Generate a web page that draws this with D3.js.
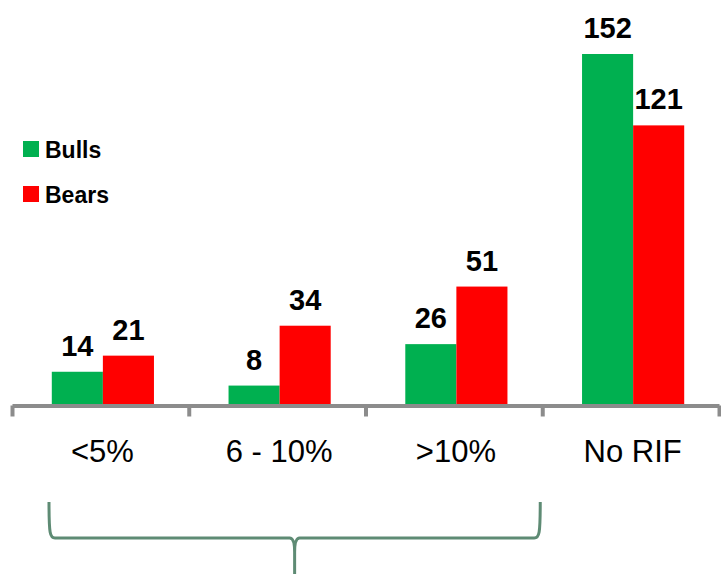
<!DOCTYPE html>
<html>
<head>
<meta charset="utf-8">
<script src="https://cdn.jsdelivr.net/npm/d3@7/dist/d3.min.js"></script>
<style>
  html, body { margin: 0; padding: 0; background: #fff; }
  svg { display: block; font-family: "Liberation Sans", Arial, sans-serif; }
</style>
</head>
<body>
<svg id="chart" width="721" height="574"></svg>
<script>
// Data
const categories = ["<5%", "6 - 10%", ">10%", "No RIF"];
const seriesNames = ["Bulls", "Bears"];
const bulls = [14, 8, 26, 152];
const bears = [21, 34, 51, 121];
const seriesColors = ["#00B050", "#FF0000"];

const svg = d3.select("#chart");
const W = 721, H = 574;
const baseY = 404;

// Scales
const x = d3.scaleBand().domain(categories).range([12, 719]).paddingInner(0).paddingOuter(0);
const xEdge = d3.scaleLinear().domain([0, categories.length]).range([12, 719]);
const xs = d3.scaleBand().domain(seriesNames).range([0, x.bandwidth()]).paddingInner(0).paddingOuter(0.73);
const y = d3.scaleLinear().domain([0, 152]).range([baseY, 54]);
const color = d3.scaleOrdinal().domain(seriesNames).range(seriesColors);

const rows = categories.map((c, i) => ({
  cat: c,
  vals: [{ s: "Bulls", v: bulls[i] }, { s: "Bears", v: bears[i] }]
}));

// Bars
const groups = svg.append("g").attr("transform", "translate(2.5,0)")
  .selectAll("g.grp").data(rows).join("g")
  .attr("class", "grp")
  .attr("transform", d => `translate(${x(d.cat)},0)`);

groups.selectAll("rect").data(d => d.vals).join("rect")
  .attr("x", d => xs(d.s))
  .attr("width", xs.bandwidth())
  .attr("y", d => y(d.v))
  .attr("height", d => y(0) - y(d.v))
  .attr("fill", d => color(d.s));

// Value labels
groups.selectAll("text").data(d => d.vals).join("text")
  .attr("x", d => xs(d.s) + xs.bandwidth() / 2)
  .attr("y", d => y(d.v) - 16)
  .attr("text-anchor", "middle")
  .attr("font-size", 29)
  .attr("font-weight", "bold")
  .attr("fill", "#000")
  .text(d => d.v);

// Axis line with boundary ticks
const axis = svg.append("g")
  .attr("transform", `translate(0,${baseY + 1.5})`)
  .call(d3.axisBottom(xEdge).tickValues(d3.range(categories.length + 1))
    .tickSize(11).tickSizeOuter(0).tickFormat(""));
axis.select(".domain").attr("stroke", "#8c8c8c").attr("stroke-width", 4);
axis.selectAll(".tick line").attr("stroke", "#8c8c8c").attr("stroke-width", 4);

// Category labels
const catAxis = svg.append("g")
  .attr("transform", `translate(2,0)`)
  .call(d3.axisBottom(x).tickSize(0));
catAxis.select(".domain").remove();
catAxis.selectAll("text")
  .attr("y", 462).attr("dy", null)
  .attr("font-size", 31)
  .attr("font-family", "Liberation Sans, Arial, sans-serif")
  .attr("fill", "#000");

// Legend
const legend = svg.append("g").selectAll("g").data(seriesNames).join("g")
  .attr("transform", (d, i) => `translate(23,${141 + i * 45})`);
legend.append("rect").attr("width", 16).attr("height", 16).attr("fill", d => color(d));
legend.append("text")
  .attr("x", 22).attr("y", 17)
  .attr("font-size", 23).attr("font-weight", "bold").attr("fill", "#000")
  .text(d => d);

// Brace under the first three categories
const bL = x(categories[0]) + 37, bR = x(categories[2]) + x.bandwidth() - 2;
const bM = (bL + bR) / 2;
const bTop = 502, bMid = 538, r = 6;
const brace = d3.path();
brace.moveTo(bL, bTop);
brace.bezierCurveTo(bL, bMid - 4, bL + 1, bMid, bL + r, bMid);
brace.lineTo(bM - 5, bMid);
brace.bezierCurveTo(bM - 1, bMid, bM, bMid + 6, bM, bMid + 14);
brace.lineTo(bM, H + 2);
brace.moveTo(bM, bMid + 14);
brace.bezierCurveTo(bM, bMid + 6, bM + 1, bMid, bM + 5, bMid);
brace.lineTo(bR - r, bMid);
brace.bezierCurveTo(bR - 1, bMid, bR, bMid - 4, bR, bTop);
svg.append("path").attr("d", brace.toString())
  .attr("fill", "none").attr("stroke", "#5e8b74").attr("stroke-width", 3);
</script>
</body>
</html>
